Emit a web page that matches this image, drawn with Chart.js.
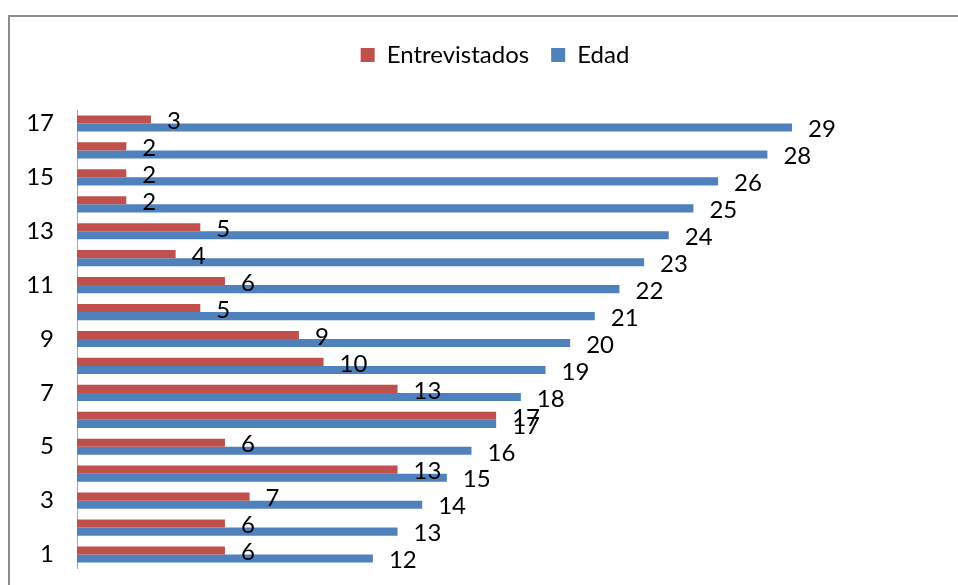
<!DOCTYPE html>
<html>
<head>
<meta charset="utf-8">
<script src="https://cdn.jsdelivr.net/npm/chart.js@4/dist/chart.umd.min.js"></script>
<style>
  html, body { margin: 0; padding: 0; background: #fff; }
  #wrap { position: relative; width: 958px; height: 585px; }
</style>
</head>
<body>
<div id="wrap"><canvas id="barChart" width="958" height="585"></canvas></div>
<script>
// categories, bottom to top
const categories = ['1', '2', '3', '4', '5', '6', '7', '8', '9', '10', '11', '12', '13', '14', '15', '16', '17'];
const entrevistados = [6, 6, 7, 13, 6, 17, 13, 10, 9, 5, 6, 4, 5, 2, 2, 2, 3];
const edad = [12, 13, 14, 15, 16, 17, 18, 19, 20, 21, 22, 23, 24, 25, 26, 28, 29];

const FONT = 'Lato';
const FONT_SIZE = 24;

// simple value labels at the end of each bar
const barLabels = {
  id: 'barLabels',
  afterDatasetsDraw(chart) {
    const ctx = chart.ctx;
    ctx.save();
    ctx.font = FONT_SIZE + 'px ' + FONT;
    ctx.fillStyle = '#000';
    ctx.textAlign = 'left';
    ctx.textBaseline = 'middle';
    chart.data.datasets.forEach((ds, i) => {
      chart.getDatasetMeta(i).data.forEach((bar, j) => {
        ctx.fillText(ds.data[j], bar.x + 16, bar.y + 2);
      });
    });
    ctx.restore();
  }
};

// outer gray frame
const frame = {
  id: 'frame',
  beforeDraw(chart) {
    const ctx = chart.ctx;
    ctx.save();
    ctx.fillStyle = '#fff';
    ctx.fillRect(0, 0, chart.width, chart.height);
    ctx.strokeStyle = '#8c8c8c';
    ctx.lineWidth = 2;
    ctx.strokeRect(9, 16, 1000, 1000);
    ctx.restore();
  }
};

// more room under the legend, and legend nudged right over the plot
const legendGap = {
  id: 'legendGap',
  beforeUpdate(chart) {
    const lg = chart.legend;
    if (lg && !lg._gapPatched) {
      const fit = lg.fit;
      lg.fit = function () {
        fit.apply(this, arguments);
        this.height += 33;
      };
      lg._gapPatched = true;
    }
  },
  afterLayout(chart) {
    chart.legend.left += 25;
    chart.legend.right += 25;
  }
};

new Chart(document.getElementById('barChart'), {
  type: 'bar',
  data: {
    labels: categories,
    datasets: [{
      label: 'Entrevistados',
      data: entrevistados,
      backgroundColor: '#C0504D',
      categoryPercentage: 0.6,
      barPercentage: 1.0
    }, {
      label: 'Edad',
      data: edad,
      backgroundColor: '#4F81BD',
      categoryPercentage: 0.6,
      barPercentage: 1.0
    }]
  },
  plugins: [frame, legendGap, barLabels],
  options: {
    indexAxis: 'y',
    responsive: false,
    animation: false,
    layout: { padding: { top: 21, right: 18, bottom: 17, left: 0 } },
    plugins: {
      legend: {
        position: 'top',
        labels: {
          font: { family: FONT, size: FONT_SIZE },
          color: '#000',
          boxWidth: 14,
          boxHeight: 14,
          padding: 22
        }
      },
      tooltip: { enabled: false }
    },
    scales: {
      x: {
        display: false,
        min: 0,
        max: 35
      },
      y: {
        reverse: true,
        grid: { display: false, drawTicks: false },
        border: { color: '#a6a6a6', width: 1 },
        ticks: {
          autoSkip: false,
          padding: 23,
          color: '#000',
          font: { family: FONT, size: FONT_SIZE },
          callback: function (val, idx) {
            return idx % 2 === 0 ? this.getLabelForValue(val) : '';
          }
        },
        afterFit: (scale) => {
          scale.width = 77;
          scale.paddingTop = 0;
          scale.paddingBottom = 0;
        }
      }
    }
  }
});
</script>
</body>
</html>
